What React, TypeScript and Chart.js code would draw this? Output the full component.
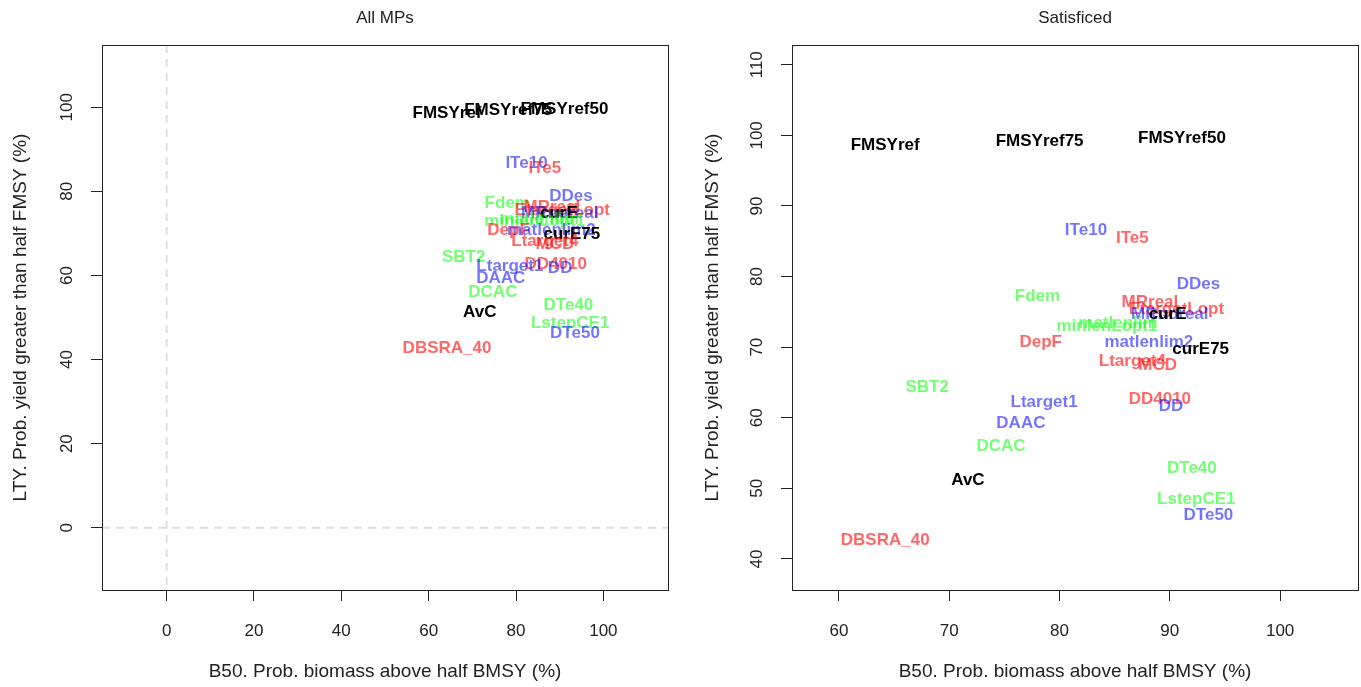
import React, { useEffect, useRef } from "react";
import { Chart, registerables } from "chart.js";

Chart.register(...registerables);

// ---- data ----
const mpNames = [
  "FMSYref", "FMSYref75", "FMSYref50", "ITe10", "ITe5", "DDes", "Fdem", "MRreal",
  "EtargetLopt", "MRnoreal", "curE", "matlenlim", "minlenLopt1", "DepF", "matlenlim2",
  "curE75", "Ltarget4", "MCD", "SBT2", "DD4010", "DD", "Ltarget1", "DAAC", "DCAC",
  "DTe40", "AvC", "LstepCE1", "DTe50", "DBSRA_40",
];
const b50 = [
  64.2, 78.2, 91.1, 82.4, 86.6, 92.6, 78.0, 88.2,
  90.6, 90.0, 89.8, 85.3, 84.3, 78.3, 88.1,
  92.8, 86.6, 88.9, 68.0, 89.1, 90.1, 78.6, 76.5, 74.7,
  92.0, 71.7, 92.4, 93.5, 64.2,
];
const lty = [
  98.6, 99.2, 99.6, 86.6, 85.4, 78.9, 77.2, 76.3,
  75.4, 74.7, 74.7, 73.4, 72.9, 70.7, 70.7,
  69.7, 68.0, 67.4, 64.3, 62.6, 61.6, 62.2, 59.2, 56.0,
  52.9, 51.2, 48.5, 46.2, 42.7,
];
const mpGroup = [
  "k", "k", "k", "b", "r", "b", "g", "r",
  "r", "b", "k", "g", "g", "r", "b",
  "k", "r", "r", "g", "r", "b", "b", "b", "g",
  "g", "k", "g", "b", "r",
];
const groupColors: Record<string, string> = {
  k: "rgba(0,0,0,1)",
  r: "rgba(255,0,0,0.6)",
  b: "rgba(0,0,255,0.55)",
  g: "rgba(0,255,0,0.55)",
};

const panelTitles = ["All MPs", "Satisficed"];
const xAxisTitle = "B50. Prob. biomass above half BMSY (%)";
const yAxisTitle = "LTY. Prob. yield greater than half FMSY (%)";

// axis limits and tick steps: [left panel, right panel]
const xLimits = [[-14.8, 114.8], [55.75, 107.06]];
const yLimits = [[-14.8, 114.8], [35.6, 112.8]];
const xSteps = [20, 10];
const ySteps = [20, 10];

const FONT = '"Liberation Sans", Arial, Helvetica, sans-serif';

const labelPlugin = {
  id: "mpLabels",
  beforeDatasetsDraw(chart: any) {
    const opts = chart.options.plugins.mpLabels || {};
    const { ctx, chartArea } = chart;
    if (opts.zeroLines) {
      ctx.save();
      ctx.strokeStyle = "#dedede";
      ctx.lineWidth = 2;
      ctx.setLineDash([8, 6]);
      const x0 = chart.scales.x.getPixelForValue(0);
      const y0 = chart.scales.y.getPixelForValue(0);
      ctx.beginPath();
      ctx.moveTo(x0, chartArea.top);
      ctx.lineTo(x0, chartArea.bottom);
      ctx.moveTo(chartArea.left, y0);
      ctx.lineTo(chartArea.right, y0);
      ctx.stroke();
      ctx.restore();
    }
  },
  afterDatasetsDraw(chart: any) {
    const opts = chart.options.plugins.mpLabels || {};
    const { ctx, chartArea } = chart;
    const meta = chart.getDatasetMeta(0);
    ctx.save();
    ctx.beginPath();
    ctx.rect(chartArea.left, chartArea.top, chartArea.right - chartArea.left, chartArea.bottom - chartArea.top);
    ctx.clip();
    ctx.font = `bold 17px ${FONT}`;
    ctx.textAlign = "center";
    ctx.textBaseline = "middle";
    meta.data.forEach((pt: any, i: number) => {
      ctx.fillStyle = groupColors[mpGroup[i]];
      ctx.fillText(mpNames[i], pt.x, pt.y);
    });
    ctx.restore();

    // plot box
    ctx.save();
    ctx.strokeStyle = "#222";
    ctx.lineWidth = 1;
    ctx.strokeRect(
      Math.round(chartArea.left) + 0.5,
      Math.round(chartArea.top) + 0.5,
      Math.round(chartArea.right - chartArea.left),
      Math.round(chartArea.bottom - chartArea.top)
    );
    ctx.restore();

    // main title
    ctx.save();
    ctx.font = `17px ${FONT}`;
    ctx.fillStyle = "#222";
    ctx.textAlign = "center";
    ctx.textBaseline = "middle";
    ctx.fillText(opts.title || "", (chartArea.left + chartArea.right) / 2, 18);
    ctx.restore();
  },
};

function Panel({ idx, left, width, yAxisWidth, padRight, yTitlePad }: any) {
  const ref = useRef<HTMLCanvasElement>(null);
  useEffect(() => {
    if (!ref.current) return;
    const data = b50.map((x, i) => ({ x, y: lty[i] }));
    const chart = new Chart(ref.current, {
      type: "scatter",
      data: {
        datasets: [
          {
            data,
            pointRadius: 0,
            pointHoverRadius: 0,
            showLine: false,
          },
        ],
      },
      plugins: [labelPlugin],
      options: {
        responsive: false,
        animation: false,
        devicePixelRatio: 1,
        layout: { padding: { top: 45, right: padRight, left: 0, bottom: 0 } },
        plugins: {
          legend: { display: false },
          tooltip: { enabled: false },
          mpLabels: { title: panelTitles[idx], zeroLines: idx === 0 },
        } as any,
        scales: {
          x: {
            type: "linear",
            min: xLimits[idx][0],
            max: xLimits[idx][1],
            grid: { drawOnChartArea: false, drawTicks: true, tickLength: 11, color: "#222", lineWidth: 1 },
            border: { display: false },
            ticks: {
              stepSize: xSteps[idx],
              includeBounds: false,
              autoSkip: false,
              maxRotation: 0,
              minRotation: 0,
              padding: 20,
              color: "#222",
              font: { family: FONT, size: 17 },
            },
            title: {
              display: true,
              text: xAxisTitle,
              color: "#222",
              font: { family: FONT, size: 19 },
              padding: { top: 0, bottom: 4 },
            },
            afterFit: (s: any) => {
              s.height = 97;
            },
          },
          y: {
            type: "linear",
            min: yLimits[idx][0],
            max: yLimits[idx][1],
            grid: { drawOnChartArea: false, drawTicks: true, tickLength: 11, color: "#222", lineWidth: 1 },
            border: { display: false },
            ticks: {
              stepSize: ySteps[idx],
              includeBounds: false,
              autoSkip: false,
              minRotation: 90,
              maxRotation: 90,
              crossAlign: "center",
              padding: 10,
              color: "#222",
              font: { family: FONT, size: 17 },
            },
            title: {
              display: true,
              text: yAxisTitle,
              color: "#222",
              font: { family: FONT, size: 19 },
              padding: { top: yTitlePad, bottom: 0 },
            },
            afterFit: (s: any) => {
              s.width = yAxisWidth;
            },
          },
        },
      } as any,
    });
    return () => chart.destroy();
  }, []);
  return (
    <canvas
      ref={ref}
      width={width}
      height={687}
      style={{ position: "absolute", left, top: 0, width, height: 687, display: "block" }}
    />
  );
}

export default function App() {
  return (
    <div style={{ position: "fixed", left: 0, top: 0, width: 1361, height: 687, background: "#fff" }}>
      <Panel idx={0} left={0} width={680} yAxisWidth={102} padRight={12} yTitlePad={9} />
      <Panel idx={1} left={680} width={681} yAxisWidth={112} padRight={3} yTitlePad={21} />
    </div>
  );
}
